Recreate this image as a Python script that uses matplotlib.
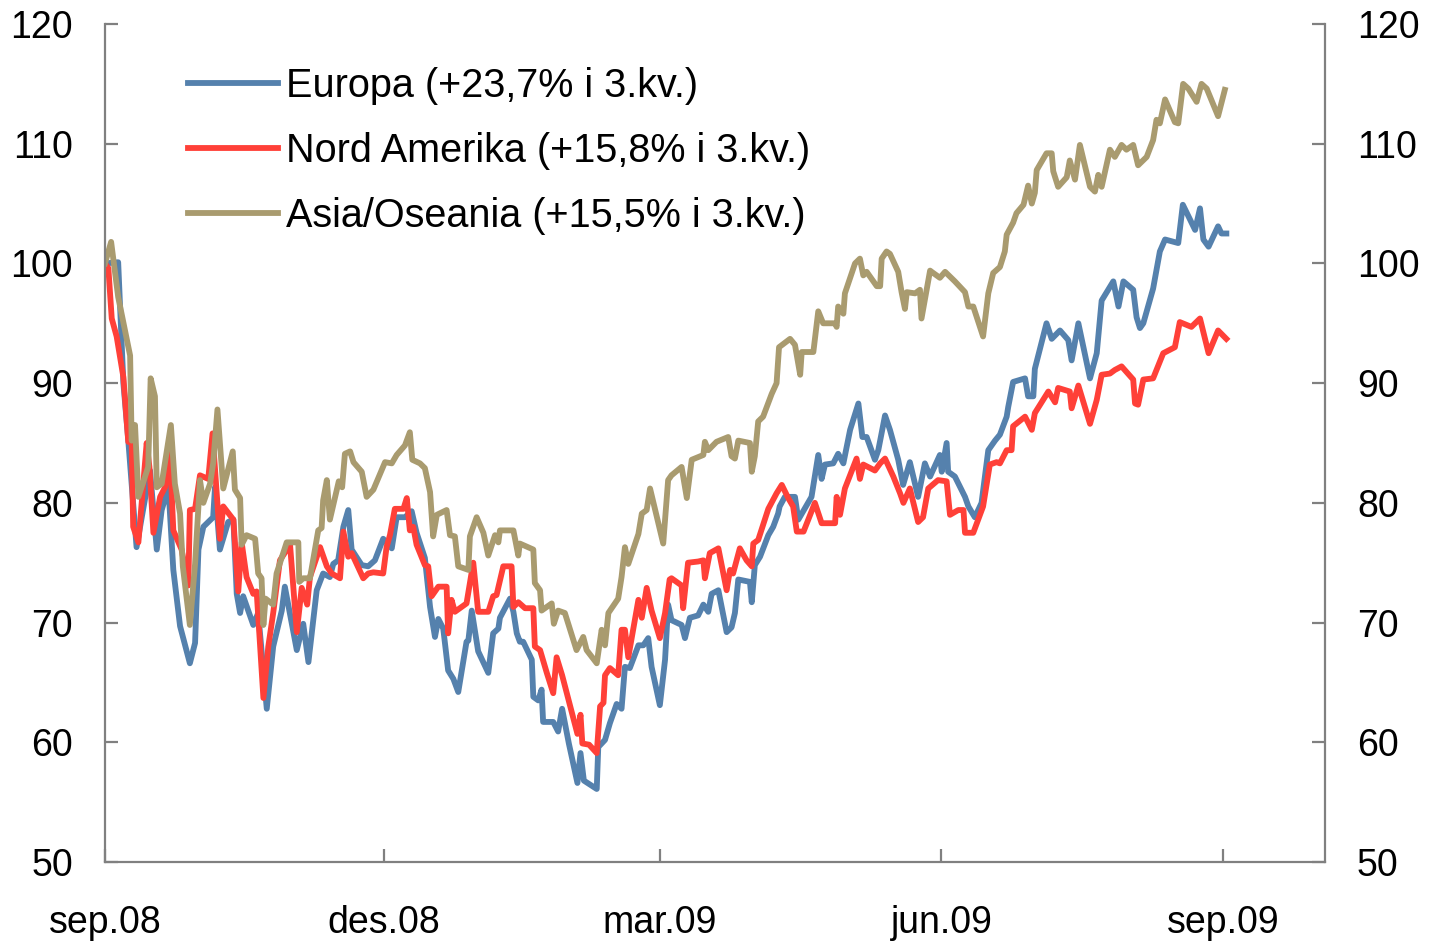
import datetime as dt
import matplotlib
matplotlib.use("Agg")
import matplotlib.pyplot as plt
import matplotlib.dates as mdates

# days since 1 Sep 2008, index levels
start = dt.date(2008, 9, 1)

europa_day = [0, 4.3, 6.0, 7.6, 10.3, 12.0, 14.7, 16.9, 18.5, 20.7,
              22.3, 24.5, 27.7, 29.4, 30.5, 32.1, 35.3, 35.9, 37.5, 40.2,
              41.9, 43.0, 44.1, 45.1, 48.4, 50.0, 52.8, 54.9, 57.7, 58.7,
              62.6, 64.7, 66.4, 69.1, 71.2, 73.4, 74.5, 76.1, 77.8, 79.4,
              80.5, 83.8, 85.9, 88.1, 90.8, 93.6, 95.2, 97.9, 100.1, 101.7,
              104.4, 106.1, 107.7, 108.8, 110.4, 112.0, 113.7, 115.3, 118.0, 118.6,
              119.7, 121.8, 125.1, 126.7, 128.4, 128.9, 132.2, 133.3, 134.4, 135.4,
              136.5, 139.3, 139.8, 141.4, 142.5, 143.0, 146.3, 147.9, 149.2, 151.4,
              154.2, 155.2, 156.3, 160.5, 161.0, 163.2, 164.8, 167.0, 168.6, 169.7,
              171.3, 174.1, 175.7, 177.3, 178.4, 181.1, 182.8, 183.8, 184.9, 188.2,
              189.3, 190.9, 193.6, 195.3, 196.9, 198.0, 200.2, 202.9, 204.5, 205.6,
              206.7, 210.5, 211.1, 212.1, 213.8, 216.5, 218.1, 219.7, 220.2, 221.9,
              225.2, 226.3, 230.6, 232.8, 233.9, 235.0, 237.7, 239.3, 241.0, 243.2,
              245.9, 247.2, 248.6, 251.3, 252.4, 254.6, 256.2, 258.9, 260.5, 262.7,
              265.4, 267.6, 269.3, 272.5, 273.1, 274.7, 275.2, 277.4, 280.7, 281.8,
              283.9, 286.1, 288.3, 290.5, 292.1, 294.3, 294.8, 296.4, 300.3, 301.3,
              303.0, 303.5, 307.3, 309.0, 311.7, 314.4, 315.5, 317.7, 321.5, 323.7,
              325.3, 329.1, 330.8, 332.4, 335.6, 336.7, 337.8, 338.9, 342.1, 344.3,
              346.0, 350.3, 351.8, 355.8, 357.4, 358.5, 360.2, 363.3, 364.4, 366.0]
europa = [100.0, 100.1, 90.0, 85.2, 76.3, 78.8, 82.7, 76.1, 79.4, 81.3,
          74.4, 69.7, 66.6, 68.3, 76.1, 78.0, 78.8, 81.3, 76.1, 78.4,
          78.6, 72.4, 70.8, 72.2, 69.8, 70.8, 62.8, 68.0, 71.0, 73.0,
          67.7, 69.9, 66.7, 72.7, 74.1, 73.8, 74.9, 75.2, 78.0, 79.4,
          76.1, 74.8, 74.7, 75.2, 77.0, 76.2, 78.8, 78.8, 79.3, 77.5,
          75.4, 71.3, 68.8, 70.3, 69.5, 66.0, 65.3, 64.2, 68.4, 68.5,
          71.0, 67.6, 65.8, 69.1, 69.5, 70.4, 72.0, 70.9, 69.1, 68.4,
          68.4, 66.9, 63.8, 63.5, 64.4, 61.7, 61.7, 60.9, 62.8, 59.9,
          56.6, 59.1, 56.8, 56.1, 59.6, 60.2, 61.6, 63.2, 62.8, 66.3,
          66.2, 68.1, 68.1, 68.7, 66.3, 63.1, 66.9, 71.5, 70.2, 69.8,
          68.7, 70.4, 70.6, 71.5, 70.9, 72.4, 72.7, 69.2, 69.6, 70.8,
          73.6, 73.4, 71.7, 74.8, 75.5, 77.3, 78.0, 79.1, 79.7, 80.5,
          80.5, 78.6, 80.5, 84.0, 82.0, 83.2, 83.3, 84.1, 83.3, 86.1,
          88.3, 85.5, 85.5, 83.6, 84.4, 87.3, 86.1, 83.6, 81.5, 83.4,
          80.5, 83.3, 82.2, 84.0, 82.6, 85.0, 82.6, 82.2, 80.5, 79.7,
          78.8, 80.0, 84.4, 85.2, 85.7, 87.2, 88.0, 90.1, 90.4, 88.9,
          88.9, 91.2, 95.0, 93.7, 94.4, 93.6, 91.9, 95.0, 90.4, 92.5,
          96.9, 98.5, 96.4, 98.5, 97.8, 95.5, 94.6, 95.0, 97.9, 101.0,
          102.0, 101.7, 104.9, 102.8, 104.6, 102.0, 101.4, 103.1, 102.5, 102.5]

nord_day = [0, 1.1, 2.2, 3.8, 6.0, 7.6, 8.7, 9.2, 10.9, 13.6,
            14.5, 15.8, 18.0, 19.6, 21.2, 22.3, 25.0, 27.2, 27.7, 29.4,
            31.0, 33.7, 35.1, 37.5, 38.6, 41.9, 43.5, 44.6, 46.2, 48.4,
            49.5, 51.7, 53.3, 54.9, 57.1, 60.4, 62.6, 64.2, 66.0, 66.9,
            70.2, 72.4, 74.0, 76.7, 77.8, 79.4, 80.5, 84.3, 85.9, 87.6,
            90.8, 91.9, 93.0, 94.6, 97.4, 98.5, 99.5, 100.6, 101.7, 104.4,
            105.5, 106.6, 108.8, 111.5, 112.0, 113.1, 114.2, 118.0, 120.2, 121.8,
            125.1, 126.7, 127.8, 130.0, 132.7, 133.3, 134.9, 137.1, 139.8, 140.3,
            142.0, 144.2, 146.3, 147.4, 149.2, 154.2, 155.2, 155.8, 158.0, 160.5,
            161.6, 162.7, 163.2, 164.8, 167.5, 168.6, 169.7, 170.8, 174.1, 175.2,
            176.8, 178.4, 181.1, 182.8, 184.3, 184.9, 188.2, 188.7, 190.3, 193.6,
            195.3, 195.8, 197.4, 200.2, 202.9, 204.0, 205.0, 207.2, 209.4, 211.1,
            211.6, 213.2, 216.5, 219.2, 220.9, 223.0, 224.6, 225.8, 228.0, 231.7,
            233.9, 238.3, 238.8, 239.9, 241.5, 245.3, 246.4, 247.5, 251.3, 253.0,
            254.6, 257.3, 259.5, 260.6, 262.7, 265.4, 267.0, 268.7, 271.9, 274.7,
            275.8, 278.5, 280.2, 280.7, 283.4, 286.6, 288.8, 291.0, 292.1, 294.3,
            295.9, 296.4, 300.3, 302.5, 303.5, 307.9, 310.1, 311.1, 314.9, 315.5,
            317.7, 321.5, 323.7, 325.3, 328.0, 329.6, 331.8, 335.6, 336.2, 337.2,
            338.9, 342.1, 345.4, 349.2, 350.8, 354.6, 357.4, 360.2, 363.3, 366.0]
nord_amerika = [100.0, 99.6, 95.4, 93.9, 90.5, 85.1, 85.0, 78.0, 76.7, 85.0,
                83.0, 77.5, 80.5, 81.3, 84.1, 77.7, 76.1, 73.1, 79.4, 79.5,
                82.3, 82.0, 85.8, 77.0, 79.7, 78.6, 72.6, 76.7, 73.8, 72.4,
                72.6, 63.7, 68.0, 70.8, 75.2, 76.5, 69.2, 72.9, 71.5, 73.8,
                76.3, 74.7, 74.1, 73.7, 77.6, 75.5, 75.8, 73.7, 74.1, 74.2,
                74.1, 76.3, 77.3, 79.5, 79.5, 80.4, 77.7, 78.0, 76.5, 74.8,
                74.7, 72.2, 73.0, 73.0, 69.1, 71.9, 70.9, 71.6, 75.0, 70.9,
                70.9, 72.2, 72.3, 74.7, 74.7, 71.3, 71.7, 71.2, 71.2, 68.0,
                67.7, 65.8, 64.1, 67.1, 65.6, 60.7, 62.3, 59.9, 59.8, 59.1,
                63.0, 63.3, 65.6, 66.2, 65.6, 69.4, 69.4, 67.1, 71.9, 70.4,
                72.9, 71.0, 68.7, 70.8, 73.6, 73.7, 73.1, 71.2, 75.0, 75.1,
                75.2, 73.7, 75.8, 76.2, 72.7, 74.4, 74.1, 76.2, 75.2, 74.7,
                76.6, 76.9, 79.5, 80.8, 81.5, 80.4, 79.7, 77.6, 77.6, 80.0,
                78.3, 78.3, 80.5, 79.0, 81.2, 83.7, 82.0, 83.2, 82.7, 83.3,
                83.7, 82.2, 80.8, 80.0, 81.2, 78.4, 78.8, 81.2, 81.9, 81.8,
                79.0, 79.4, 79.4, 77.5, 77.5, 79.7, 83.2, 83.4, 83.3, 84.4,
                84.4, 86.4, 87.2, 86.1, 87.5, 89.3, 88.4, 89.6, 89.3, 87.9,
                89.8, 86.6, 88.6, 90.7, 90.8, 91.1, 91.4, 90.3, 88.3, 88.2,
                90.3, 90.4, 92.5, 93.0, 95.1, 94.7, 95.4, 92.5, 94.4, 93.7]

asia_day = [0, 2.0, 4.3, 8.2, 8.7, 9.8, 10.9, 14.1, 14.9, 16.3,
            16.9, 18.5, 21.5, 22.8, 24.5, 25.4, 27.7, 29.4, 31.0, 32.1,
            34.3, 35.3, 36.7, 38.6, 41.7, 42.4, 44.1, 44.6, 46.2, 49.0,
            50.0, 51.1, 51.7, 52.4, 54.9, 56.0, 59.3, 63.1, 63.4, 64.7,
            66.9, 69.6, 70.7, 71.2, 72.4, 73.4, 76.3, 77.4, 78.3, 80.0,
            81.1, 83.8, 85.4, 87.6, 91.4, 93.6, 95.2, 97.9, 99.5, 100.3,
            102.8, 104.4, 106.1, 107.1, 108.3, 111.5, 112.6, 114.2, 115.3, 118.6,
            119.1, 121.3, 123.5, 125.1, 127.3, 128.4, 128.9, 133.3, 134.9, 135.4,
            139.8, 140.3, 142.0, 142.5, 145.8, 146.5, 147.9, 150.1, 153.9, 156.1,
            157.2, 160.5, 162.1, 163.2, 164.3, 167.5, 168.6, 169.7, 170.8, 174.1,
            175.2, 176.8, 177.9, 182.2, 183.8, 184.9, 188.2, 189.9, 191.5, 195.3,
            195.8, 196.9, 199.6, 203.4, 204.5, 205.6, 206.7, 210.5, 211.1, 212.1,
            213.2, 214.8, 217.6, 219.2, 220.0, 223.6, 225.2, 226.9, 227.4, 231.2,
            232.8, 234.4, 238.3, 238.8, 239.3, 241.0, 241.5, 244.8, 246.4, 247.5,
            248.6, 251.9, 253.0, 253.5, 255.1, 256.2, 258.9, 260.0, 261.1, 261.7,
            264.4, 266.0, 266.5, 269.3, 269.8, 272.5, 274.2, 277.4, 280.7, 281.8,
            283.4, 286.6, 288.3, 289.9, 292.1, 293.7, 294.3, 296.4, 297.5, 299.8,
            301.3, 302.5, 303.5, 304.1, 307.3, 309.0, 309.5, 311.1, 313.9, 314.9,
            316.6, 318.2, 321.5, 323.1, 324.2, 325.3, 328.0, 329.6, 331.8, 333.4,
            335.6, 337.2, 340.0, 342.1, 343.2, 344.3, 346.0, 349.2, 350.3, 351.9,
            353.6, 356.3, 357.9, 359.6, 363.3, 365.5]
asia = [100.0, 101.8, 97.2, 92.3, 85.2, 86.5, 80.5, 83.0, 90.4, 88.9,
        81.3, 81.6, 86.5, 81.6, 79.1, 74.7, 69.8, 74.9, 81.9, 80.0,
        81.6, 83.3, 87.8, 81.2, 84.3, 81.1, 80.4, 76.5, 77.3, 77.0,
        74.1, 73.7, 69.8, 72.0, 71.5, 74.1, 76.7, 76.7, 73.4, 73.7,
        73.7, 77.7, 77.9, 80.2, 81.9, 78.6, 81.8, 81.3, 84.1, 84.3,
        83.4, 82.6, 80.5, 81.1, 83.4, 83.3, 84.0, 84.8, 85.9, 83.6,
        83.3, 82.9, 80.9, 77.2, 79.0, 79.4, 77.3, 77.2, 74.7, 74.4,
        77.2, 78.8, 77.5, 75.6, 77.3, 76.7, 77.7, 77.7, 75.6, 76.6,
        76.1, 73.3, 72.7, 71.0, 71.6, 69.9, 71.0, 70.8, 67.7, 68.8,
        67.7, 66.6, 69.4, 68.1, 70.8, 72.0, 73.8, 76.3, 74.9, 77.4,
        79.1, 79.4, 81.2, 76.6, 81.9, 82.3, 83.0, 80.4, 83.6, 84.0,
        85.1, 84.4, 85.1, 85.5, 83.9, 83.7, 85.2, 85.0, 82.6, 83.9,
        86.8, 87.2, 89.1, 90.0, 93.0, 93.7, 93.2, 90.7, 92.6, 92.6,
        96.0, 95.0, 95.0, 94.7, 96.4, 95.8, 97.5, 100.0, 100.4, 99.0,
        99.3, 98.1, 98.1, 100.4, 101.0, 100.8, 99.3, 97.6, 96.2, 97.6,
        97.5, 97.8, 95.4, 99.4, 99.3, 98.8, 99.3, 98.5, 97.6, 96.4,
        96.4, 93.9, 97.5, 99.2, 99.7, 101.0, 102.4, 103.4, 104.2, 104.9,
        106.5, 105.0, 105.9, 107.8, 109.2, 109.2, 107.7, 106.4, 107.2, 108.6,
        107.0, 109.9, 106.4, 106.0, 107.4, 106.4, 109.5, 108.9, 109.9, 109.5,
        109.9, 108.2, 108.9, 110.3, 112.0, 111.7, 113.7, 111.8, 111.7, 115.0,
        114.6, 113.5, 115.0, 114.6, 112.3, 114.5]

labels = ["Europa (+23,7% i 3.kv.)", "Nord Amerika (+15,8% i 3.kv.)",
          "Asia/Oseania (+15,5% i 3.kv.)"]
tick_dates = [dt.date(2008, 9, 1), dt.date(2008, 12, 1), dt.date(2009, 3, 1),
              dt.date(2009, 6, 1), dt.date(2009, 9, 1)]
tick_labels = ["sep.08", "des.08", "mar.09", "jun.09", "sep.09"]

plt.rcParams["font.family"] = ["Liberation Sans", "DejaVu Sans"]

t0 = mdates.date2num(start)
def to_x(days):
    return [t0 + d for d in days]

fig = plt.figure(figsize=(14.29, 9.43), dpi=100)
ax = fig.add_axes([105 / 1429, 1 - 862 / 943, 1220 / 1429, 838 / 943])

lw = 4.2
ax.plot(to_x(europa_day), europa, color="#5581ad", lw=lw, label=labels[0], solid_joinstyle="round")
ax.plot(to_x(nord_day), nord_amerika, color="#ff4038", lw=lw, label=labels[1], solid_joinstyle="round")
ax.plot(to_x(asia_day), asia, color="#a99b6f", lw=lw, label=labels[2], solid_joinstyle="round")

ax.set_ylim(50, 120)
ax.set_yticks(range(50, 121, 10))
ax.set_xlim(t0, t0 + 398.2)
ax.set_xticks(mdates.date2num(tick_dates))
ax.set_xticklabels(tick_labels)

gray = "#808080"
for side in ["left", "right", "bottom"]:
    ax.spines[side].set_color(gray)
    ax.spines[side].set_linewidth(1.6)
ax.spines["top"].set_visible(False)

ax.tick_params(axis="y", direction="in", length=9.5, width=1.6, color=gray,
               labelsize=27, pad=23, left=True, right=True, labelright=True)
ax.tick_params(axis="x", direction="in", length=9.5, width=1.6, color=gray,
               labelsize=27, pad=31)

leg = ax.legend(loc="upper left", bbox_to_anchor=(0.068, 0.949), frameon=False,
                fontsize=28.5, handlelength=2.27, handletextpad=0.2,
                labelspacing=0.68, borderpad=0, borderaxespad=0)

fig.savefig("out.png", dpi=100)
